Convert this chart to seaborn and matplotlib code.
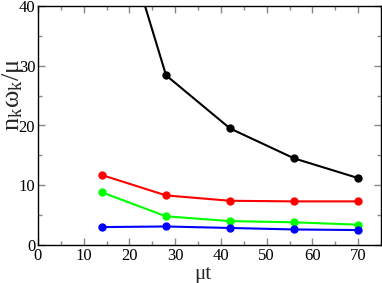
import numpy as np
import pandas as pd
import matplotlib
matplotlib.use("Agg")
import matplotlib.pyplot as plt
import seaborn as sns
from matplotlib.ticker import MultipleLocator

# values
mu_t = [14, 28, 42, 56, 70]
black_vals = [63.7, 28.4, 19.5, 14.5, 11.2]
red_vals = [11.7, 8.3, 7.4, 7.3, 7.3]
green_vals = [8.8, 4.8, 4.0, 3.8, 3.4]
blue_vals = [3.0, 3.1, 2.85, 2.6, 2.5]

series = {"black": black_vals, "red": red_vals, "#00ff00": green_vals, "blue": blue_vals}

sns.set_style("ticks")
plt.rcParams['font.family'] = ['Liberation Serif', 'DejaVu Serif']
plt.rcParams['mathtext.fontset'] = 'custom'
plt.rcParams['mathtext.rm'] = 'Liberation Serif'
plt.rcParams['mathtext.it'] = 'Liberation Serif'

fig = plt.figure(figsize=(3.82, 2.83), dpi=100)
ax = fig.add_axes([38 / 382, 38 / 283, 343 / 382, 239 / 283])

for color, vals in series.items():
    df = pd.DataFrame({"t": mu_t, "v": vals})
    sns.lineplot(data=df, x="t", y="v", ax=ax, color=color, marker="o",
                 markersize=6, markeredgewidth=0, linewidth=1.5, clip_on=True)

ax.set_xlim(0, 75)
ax.set_ylim(0, 40)
ax.xaxis.set_major_locator(MultipleLocator(10))
ax.xaxis.set_minor_locator(MultipleLocator(5))
ax.yaxis.set_major_locator(MultipleLocator(10))
ax.yaxis.set_minor_locator(MultipleLocator(5))
ax.tick_params(which="both", direction="in", top=True, right=True, colors="#888888",
               labelcolor="black", labelsize=12, pad=2)
ax.tick_params(which="major", length=5, width=1)
ax.tick_params(which="minor", length=3, width=1)
for s in ax.spines.values():
    s.set_color("black")
    s.set_linewidth(1)

ax.set_xlabel("μt", fontsize=15, labelpad=0)
ax.xaxis.set_label_coords(0.48, -0.085)
ax.set_ylabel(r"n$_\mathregular{k}$ω$_\mathregular{k}$/μ", fontsize=19)
ax.yaxis.set_label_coords(-0.035, 0.63)

plt.savefig("out.png", dpi=100)
plt.close()
